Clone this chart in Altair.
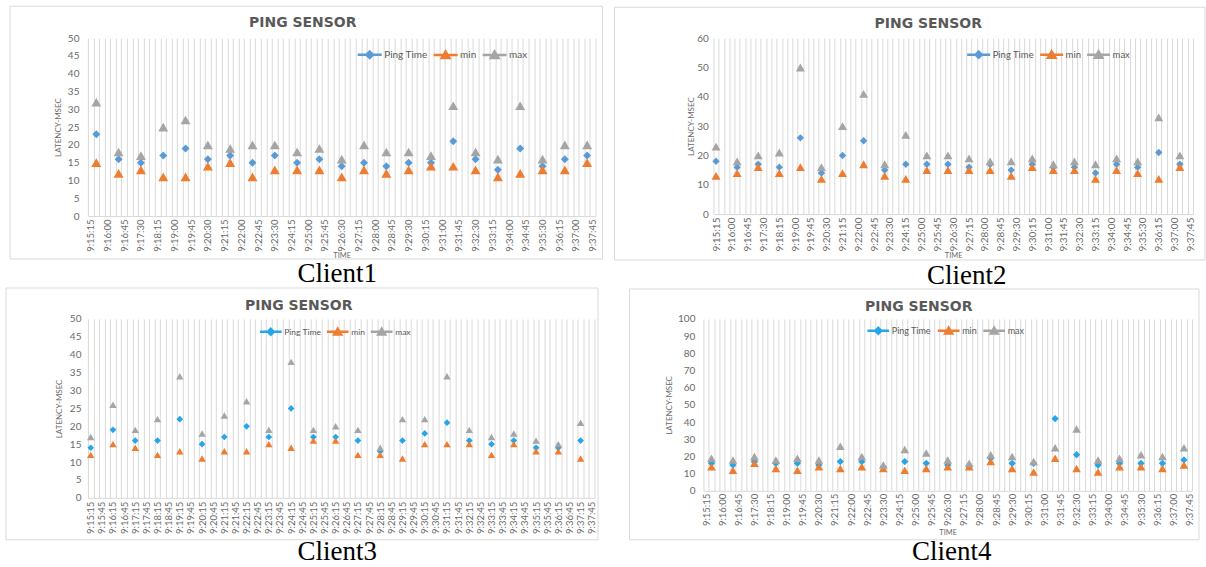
import json
import altair as alt
import pandas as pd

# ---------------- data ----------------
SERIES = ["Ping Time", "min", "max"]


def clock(sec):
    return f"{sec // 3600}:{sec % 3600 // 60:02d}:{sec % 60:02d}"


T0 = 9 * 3600 + 15 * 60 + 15   # 9:15:15
T1 = 9 * 3600 + 37 * 60 + 45   # 9:37:45
CATEGORIES = [clock(t) for t in range(T0, T1 + 1, 15)]   # category axis (15 s)
LABELS_45 = [clock(t) for t in range(T0, T1 + 1, 45)]    # shown tick labels
LABELS_30 = [clock(t) for t in range(T0, T1 + 1, 30)]

TIMES_A = ["9:15:30", "9:16:30", "9:17:30", "9:18:30", "9:19:30", "9:20:30",
           "9:21:30", "9:22:30", "9:23:30", "9:24:30", "9:25:30", "9:26:30",
           "9:27:30", "9:28:30", "9:29:30", "9:30:30", "9:31:30", "9:32:30",
           "9:33:30", "9:34:30", "9:35:30", "9:36:30", "9:37:30"]
TIMES_B = ["9:15:15", "9:16:15", "9:17:15", "9:18:15", "9:19:15", "9:20:15",
           "9:21:15", "9:22:15", "9:23:15", "9:24:15", "9:25:15", "9:26:15",
           "9:27:15", "9:28:15", "9:29:15", "9:30:15", "9:31:15", "9:32:15",
           "9:33:15", "9:34:15", "9:35:15", "9:36:15", "9:37:15"]

PING_1 = [23, 16, 15, 17, 19, 16, 17, 15, 17, 15, 16, 14, 15, 14, 15, 15, 21, 16, 13, 19, 14, 16, 17]
MIN_1 = [15, 12, 13, 11, 11, 14, 15, 11, 13, 13, 13, 11, 13, 12, 13, 14, 14, 13, 11, 12, 13, 13, 15]
MAX_1 = [32, 18, 17, 25, 27, 20, 19, 20, 20, 18, 19, 16, 20, 18, 18, 17, 31, 18, 16, 31, 16, 20, 20]

PING_2 = [18, 16, 17, 16, 26, 14, 20, 25, 15, 17, 17, 17, 16, 17, 15, 17, 16, 16, 14, 17, 16, 21, 17]
MIN_2 = [13, 14, 16, 14, 16, 12, 14, 17, 13, 12, 15, 15, 15, 15, 13, 16, 15, 15, 12, 15, 14, 12, 16]
MAX_2 = [23, 18, 20, 21, 50, 16, 30, 41, 17, 27, 20, 20, 19, 18, 18, 19, 17, 18, 17, 19, 18, 33, 20]

PING_3 = [14, 19, 16, 16, 22, 15, 17, 20, 17, 25, 17, 17, 16, 13, 16, 18, 21, 16, 15, 16, 14, 14, 16]
MIN_3 = [12, 15, 14, 12, 13, 11, 13, 13, 15, 14, 16, 16, 12, 12, 11, 15, 15, 15, 12, 15, 13, 13, 11]
MAX_3 = [17, 26, 19, 22, 34, 18, 23, 27, 19, 38, 19, 20, 19, 14, 22, 22, 34, 19, 17, 18, 16, 15, 21]

PING_4 = [16, 15, 17, 16, 16, 15, 17, 17, 14, 17, 16, 15, 14, 19, 16, 16, 42, 21, 15, 16, 16, 16, 18]
MIN_4 = [14, 12, 16, 13, 12, 14, 13, 14, 13, 12, 13, 14, 14, 17, 13, 11, 19, 13, 11, 14, 14, 13, 15]
MAX_4 = [19, 18, 20, 18, 19, 18, 26, 20, 15, 24, 22, 18, 16, 21, 20, 17, 25, 36, 18, 19, 21, 20, 25]

CAPTIONS = ["Client1", "Client2", "Client3", "Client4"]

# ---------------- style ----------------
FONT = "Lato"
LBL = "#6a6a6a"
TITLE_C = "#595959"
GRID = "#d9d9d9"
BORDER = "#d9d9d9"
ORANGE = "#ED7D31"
GRAY = "#A5A5A5"
BLUE_A = "#5B9BD5"
BLUE_B = "#26A5E8"
DIAMOND_PATH = "M-1,0L1,0M0,-0.27L0.27,0L0,0.27L-0.27,0Z"
TRI_PATH = "M-1,0L1,0M0,-0.28L0.32,0.26L-0.32,0.26Z"

PANELS = [
    dict(times=TIMES_A, ping=PING_1, mn=MIN_1, mx=MAX_1, blue=BLUE_A, w=508, h=178,
         ymax=50, ystep=5, labels=LABELS_45, xfs=9.5, xpad=3, xtitle="TIME", xtpad=0,
         ypad=9, ytpad=5, box=(-78, 7, -32, 43), head=(215, -15),
         leg=(268.5, 3, 576, 10, 0), dsize=64, tsize=100, cap=CAPTIONS[0], coff=1, cdx=-4.5),
    dict(times=TIMES_B, ping=PING_2, mn=MIN_2, mx=MAX_2, blue=BLUE_A, w=480, h=176,
         ymax=60, ystep=10, labels=LABELS_45, xfs=10, xpad=3, xtitle="TIME", xtpad=0,
         ypad=5, ytpad=1, box=(-99, 12, -31, 46), head=(215, -14),
         leg=(252.5, 3, 529, 9.5, 0), dsize=55, tsize=81, cap=CAPTIONS[1], coff=3, cdx=13.5),
    dict(times=TIMES_B, ping=PING_3, mn=MIN_3, mx=MAX_3, blue=BLUE_B, w=507, h=179,
         ymax=50, ystep=5, labels=LABELS_30, xfs=9.5, xpad=3.4, xtitle=None, xtpad=0,
         ypad=7, ytpad=6, box=(-82, 3.5, -31, 42), head=(211, -13.3),
         leg=(170.5, 0, 470, 8.5, 0), dsize=45, tsize=55, cap=CAPTIONS[2], coff=-1, cdx=-4),
    dict(times=TIMES_A, ping=PING_4, mn=MIN_4, mx=MAX_4, blue=BLUE_B, w=489, h=172,
         ymax=100, ystep=10, labels=LABELS_45, xfs=9.5, xpad=2.5, xtitle="TIME", xtpad=3,
         ypad=8.5, ytpad=4, box=(-74, 7, -30, 49), head=(215.5, -12.3),
         leg=(162.5, -1, 470, 9, 0.5), dsize=54, tsize=75, cap=CAPTIONS[3], coff=-1, cdx=4),
]


def make_panel(c):
    n = len(c["times"])
    df = pd.DataFrame({
        "time": c["times"] * 3,
        "series": ["Ping Time"] * n + ["min"] * n + ["max"] * n,
        "value": c["ping"] + c["mn"] + c["mx"],
    })
    one = pd.DataFrame({"k": [0]})
    colors = [c["blue"], ORANGE, GRAY]
    w, h = c["w"], c["h"]

    expr = "indexof(" + json.dumps(c["labels"]) + ", datum.value) >= 0 ? datum.value : ''"
    xax = alt.Axis(
        title=c["xtitle"], labelExpr=expr, labelAngle=270, labelFont=FONT,
        labelFontSize=c["xfs"], labelColor=LBL, labelPadding=c["xpad"], labelOverlap=False,
        ticks=False, grid=True, gridColor=GRID, gridWidth=1, tickBand="extent",
        domainColor=GRID, domainWidth=1, titleFont=FONT, titleFontSize=7.5,
        titleFontWeight="normal", titleColor=LBL, titlePadding=c["xtpad"])
    x = alt.X("time:O", scale=alt.Scale(type="band", domain=CATEGORIES, paddingInner=0,
                                        paddingOuter=0), axis=xax)
    yvals = list(range(0, c["ymax"] + 1, c["ystep"]))
    y = alt.Y("value:Q", scale=alt.Scale(domain=[0, c["ymax"]], nice=False),
              axis=alt.Axis(values=yvals, grid=False, domain=False, ticks=False,
                            labelFont=FONT, labelFontSize=10, labelColor=LBL,
                            labelPadding=c["ypad"], title="LATENCY-MSEC", titleFont=FONT,
                            titleFontSize=8, titleFontWeight="normal", titleColor=LBL,
                            titlePadding=c["ytpad"]))

    bx1, bx2, by1, by2 = c["box"]
    box = alt.Chart(one).mark_rect(fill="transparent", stroke=BORDER, strokeWidth=1).encode(
        x=alt.value(bx1), x2=alt.value(w + bx2), y=alt.value(by1), y2=alt.value(h + by2))
    head = alt.Chart(one).mark_text(
        text="PING SENSOR", font="DejaVu Sans", fontSize=14, fontWeight="bold",
        color=TITLE_C, align="center", baseline="middle").encode(
        x=alt.value(c["head"][0]), y=alt.value(c["head"][1]))

    base = alt.Chart(df)
    ping = base.transform_filter(alt.datum.series == "Ping Time").mark_point(
        shape="diamond", filled=True, opacity=1, size=c["dsize"], color=colors[0]).encode(x=x, y=y)
    mins = base.transform_filter(alt.datum.series == "min").mark_point(
        shape="triangle-up", filled=True, opacity=1, size=c["tsize"], color=colors[1]).encode(x=x, y=y)
    maxs = base.transform_filter(alt.datum.series == "max").mark_point(
        shape="triangle-up", filled=True, opacity=1, size=c["tsize"], color=colors[2]).encode(x=x, y=y)

    lx, ly, lsize, lfs, lcol = c["leg"]
    leg = alt.Legend(title=None, orient="none", legendX=lx, legendY=ly, direction="horizontal",
                     symbolSize=lsize, symbolStrokeWidth=2.5, labelFont=FONT, labelFontSize=lfs,
                     labelColor=TITLE_C, labelOffset=1, columnPadding=lcol, padding=0)
    legend_layer = base.transform_filter("false").mark_point(filled=True, opacity=1).encode(
        x=x, y=y,
        color=alt.Color("series:N", scale=alt.Scale(domain=SERIES, range=colors), legend=leg),
        stroke=alt.Stroke("series:N", scale=alt.Scale(domain=SERIES, range=colors), legend=leg),
        shape=alt.Shape("series:N", scale=alt.Scale(domain=SERIES,
                                                    range=[DIAMOND_PATH, TRI_PATH, TRI_PATH]),
                        legend=leg),
    )

    return alt.layer(box, head, ping, mins, maxs, legend_layer).properties(
        width=w, height=h,
        title=alt.TitleParams(text=c["cap"], orient="bottom", font="Liberation Serif",
                              fontSize=27, fontWeight="normal", color="#000000",
                              offset=c["coff"], dx=c["cdx"]))


def independent(ch):
    return ch.resolve_scale(color="independent", stroke="independent", shape="independent") \
             .resolve_legend(color="independent", stroke="independent", shape="independent")


p1, p2, p3, p4 = [make_panel(c) for c in PANELS]
row1 = independent(alt.hconcat(p1, p2, spacing=10))
row2 = independent(alt.hconcat(p3, p4, spacing=30))
chart = independent(alt.vconcat(row1, row2, spacing=-3)).properties(
    padding={"left": 5, "top": 5, "right": 0, "bottom": 0},
    background="white",
).configure_view(strokeWidth=0)

chart.save("out.html", embed_options={"renderer": "svg", "actions": False})
